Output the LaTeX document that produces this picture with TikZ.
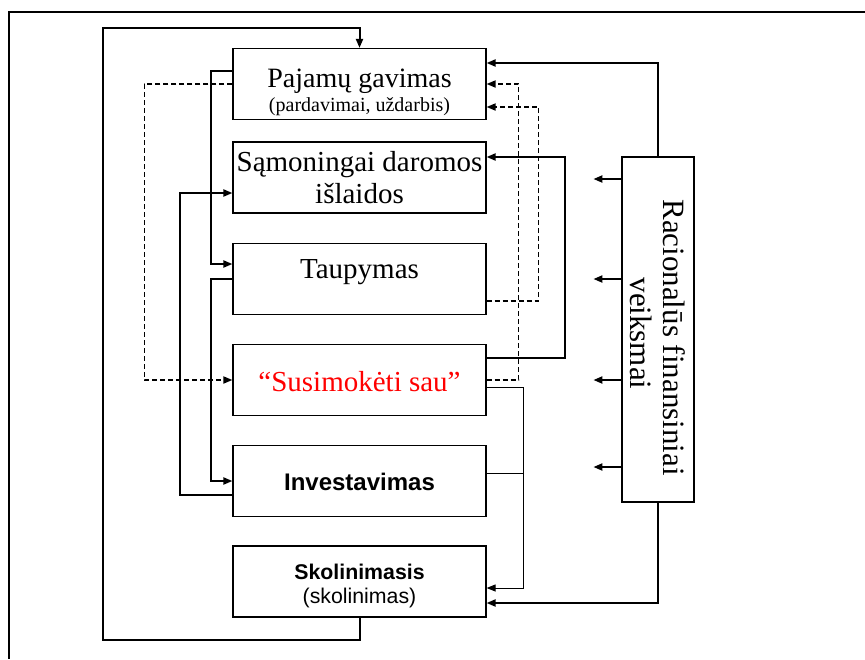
\documentclass[tikz,border=0pt]{standalone}
\usepackage{fontspec}
\setmainfont{Liberation Serif}
\newfontfamily\arialfont{Liberation Sans}
\usetikzlibrary{arrows.meta}
\begin{document}
    \begin{tikzpicture}[x=1pt, y=-1pt,
        box/.style = {draw, line width=1.2pt, minimum width=253pt, minimum height=71pt, inner sep=0pt, align=center},
        conn/.style = {line width=2pt, -{Triangle[length=9pt,width=7pt]}},
        dconn/.style = {conn, line width=1.7pt, dash pattern=on 5pt off 3pt},
        tconn/.style = {line width=1pt, -{Triangle[length=9pt,width=7pt]}}]
      \useasboundingbox (0,0) rectangle (865,659);
      \draw [line width=2.4pt] (865,12) -- (9,12) -- (9,659);
      % boxes
      \node [box, font=\fontsize{28}{24}\selectfont] (paj) at (359.5,84) {\rule{0pt}{35pt}Pajamų gavimas\\\fontsize{20}{24}\selectfont(pardavimai, uždarbis)};
      \node [box, font=\fontsize{29}{32.6}\selectfont] (sam) at (359.5,177.5) {Sąmoningai daromos\\išlaidos};
      \node [box, font=\fontsize{29}{32}\selectfont, text height=12pt, text depth=13.4pt] (tau) at (359.5,279) {Taupymas};
      \node [box, font=\fontsize{29}{32}\selectfont, text height=23.4pt, text depth=0pt, text=red] (sus) at (359.5,380) {“Susimokėti sau”};
      \node [box, font=\arialfont\bfseries\fontsize{24}{28}\selectfont, text height=18pt, text depth=0pt] (inv) at (359.5,481) {Investavimas};
      \node [box, font=\arialfont\fontsize{21.3}{24.3}\selectfont] (sko) at (359.5,581.5) {\rule{0pt}{24pt}\textbf{Skolinimasis}\\(skolinimas)};
      \node [box, font=\fontsize{31}{33}\selectfont, rotate=-90, minimum width=345pt, minimum height=72pt] (rac) at (658,329.5) {\hspace*{16pt}Racionalūs finansiniai\\\hspace*{8pt}veiksmai};
      % left side
      \draw [conn] (sko.south) -- ++(0,22) -| (103,28) -| (paj.north);
      \draw [conn] ([yshift=13pt]paj.west) -- ++(-21,0) |- ([yshift=15pt]tau.west);
      \draw [conn] (tau.west) -- ++(-21,0) |- (inv.west);
      \draw [conn] ([yshift=-14pt]inv.west) -- ++(-52,0) |- ([yshift=-15.5pt]sam.west);
      \draw [dconn] (paj.west) -- ++(-88,0) |- (sus.west);
      % right side
      \draw [dconn] (sus.east) -- ++(32,0) |- (paj.east);
      \draw [dconn] ([yshift=-22pt]tau.east) -- ++(52,0) |- ([yshift=-23pt]paj.east);
      \draw [conn] ([yshift=22pt]sus.east) -- ++(78,0) |- ([yshift=20.5pt]sam.east);
      \draw [tconn] ([yshift=-7pt]sus.east) -- ++(37,0) |- ([yshift=-6.5pt]sko.east);
      \draw [line width=1pt] ([yshift=8pt]inv.east) -- ++(37,0);
      \draw [conn] (rac.west) |- ([yshift=21pt]paj.east);
      \draw [conn] (rac.east) |- ([yshift=-21.5pt]sko.east);
      \foreach \dy in {150.5, 50.5, -50.5, -137.5}
        \draw [conn] ([yshift=\dy pt]rac.south) -- ++(-28,0);
    \end{tikzpicture}
\end{document}
